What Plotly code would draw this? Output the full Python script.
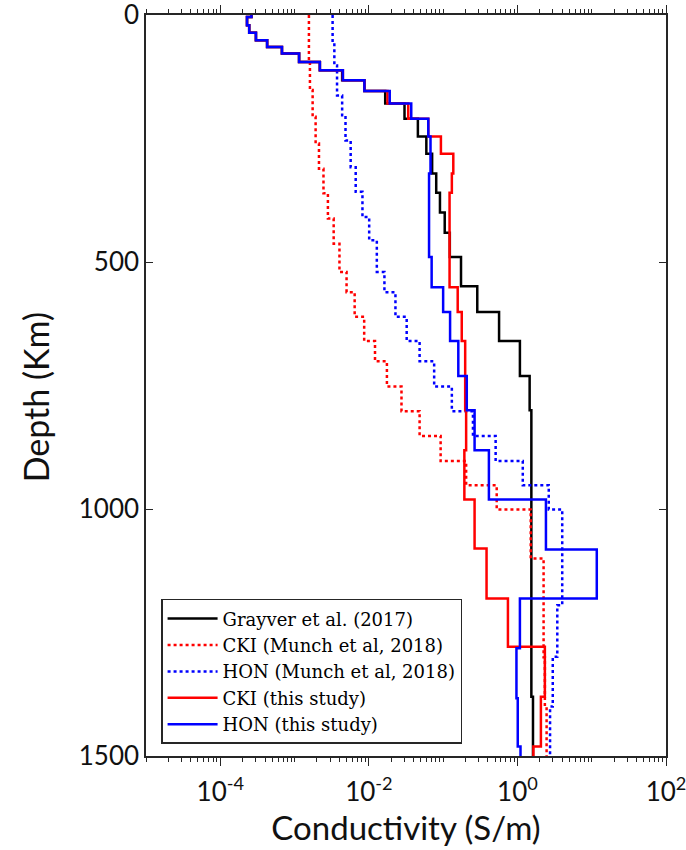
import plotly.graph_objects as go

# ---------------- data (layer top depth in km, conductivity in S/m) ----------------
grayver_top = [0, 4, 21, 36, 51, 65, 78, 95, 112, 132, 154, 179, 210, 246, 281, 321, 360,
               400, 441, 490, 549, 601, 660, 731, 800, 1380]
grayver_sig = [2.63e-4, 2.29e-4, 2.45e-4, 3.02e-4, 4.27e-4, 6.76e-4, 1.15e-3, 2.19e-3, 4.37e-3,
               8.71e-3, 1.66e-2, 3.02e-2, 4.57e-2, 5.94e-2, 7.11e-2, 8.07e-2, 9.06e-2,
               0.105, 0.123, 0.174, 0.288, 0.566, 1.08, 1.46, 1.54, 1.62]

cki_munch_top = [0, 95, 152, 206, 260, 311, 361, 412, 463, 520, 561, 611, 660, 701, 752,
                 802, 852, 903, 952, 1001, 1100, 1300, 1400]
cki_munch_sig = [1.56e-3, 1.61e-3, 1.75e-3, 1.92e-3, 2.13e-3, 2.45e-3, 2.81e-3, 3.36e-3,
                 4.02e-3, 5.01e-3, 6.44e-3, 8.65e-3, 1.21e-2, 1.75e-2, 2.75e-2, 4.82e-2,
                 9.25e-2, 0.204, 0.526, 1.51, 2.25, 2.34, 2.47]

hon_munch_top = [0, 55, 102, 163, 203, 254, 308, 358, 409, 456, 520, 561, 611, 660, 701,
                 752, 802, 852, 903, 952, 1001, 1195, 1299, 1400]
hon_munch_sig = [3.25e-3, 3.43e-3, 3.73e-3, 4.37e-3, 4.85e-3, 5.69e-3, 6.65e-3, 8.20e-3,
                 1.01e-2, 1.28e-2, 1.62e-2, 2.28e-2, 3.23e-2, 4.82e-2, 7.57e-2, 0.131,
                 0.252, 0.509, 1.18, 2.64, 4.01, 3.44, 2.99, 2.75]

cki_this_top = [0, 4, 21, 36, 51, 65, 78, 95, 112, 132, 154, 179, 210, 246, 281, 321, 360,
                551, 601, 660, 800, 881, 981, 1080, 1181, 1279, 1380, 1481]
cki_this_sig = [2.63e-4, 2.29e-4, 2.45e-4, 3.02e-4, 4.27e-4, 6.76e-4, 1.15e-3, 2.19e-3,
                4.47e-3, 8.71e-3, 1.78e-2, 3.39e-2, 6.31e-2, 9.33e-2, 0.137, 0.131, 0.122,
                0.157, 0.178, 0.198, 0.204, 0.193, 0.265, 0.384, 0.745, 2.34, 2.07, 1.64]

hon_this_top = [0, 4, 21, 36, 51, 65, 78, 95, 112, 132, 154, 179, 210, 246, 321, 490, 551,
                601, 660, 731, 800, 881, 981, 1082, 1181, 1282, 1383, 1481]
hon_this_sig = [2.63e-4, 2.29e-4, 2.45e-4, 3.02e-4, 4.27e-4, 6.76e-4, 1.15e-3, 2.19e-3,
                4.47e-3, 8.71e-3, 1.91e-2, 3.72e-2, 6.31e-2, 6.76e-2, 6.46e-2, 7.00e-2,
                0.100, 0.124, 0.160, 0.208, 0.265, 0.413, 2.42, 11.7, 1.08, 0.97, 1.01, 1.10]

max_depth = 1500

series = [
    ("Grayver et al. (2017)", grayver_top, grayver_sig, "#000000", "solid"),
    ("CKI (Munch et al, 2018)", cki_munch_top, cki_munch_sig, "#ff0000", "dot"),
    ("HON (Munch et al, 2018)", hon_munch_top, hon_munch_sig, "#0000ff", "dot"),
    ("CKI (this study)", cki_this_top, cki_this_sig, "#ff0000", "solid"),
    ("HON (this study)", hon_this_top, hon_this_sig, "#0000ff", "solid"),
]

x_major = [1e-4, 1e-2, 1, 100]
x_major_text = ["10<sup>-4</sup>", "10<sup>-2</sup>", "10<sup>0</sup>", "10<sup>2</sup>"]
y_ticks = [0, 500, 1000, 1500]

fig = go.Figure()
for name, tops, sig, color, dash in series:
    fig.add_trace(go.Scatter(
        x=list(sig) + [sig[-1]],
        y=list(tops) + [max_depth],
        mode="lines",
        name=name,
        line=dict(color=color, width=2.5, dash=dash, shape="vh"),
    ))

minor_vals = []
for d in range(-5, 2):
    for k in range(1, 10):
        v = k * 10.0 ** d
        if not any(abs(v - m) / m < 1e-9 for m in x_major):
            minor_vals.append(v)

axis_col = "#262626"
fig.update_layout(
    width=686, height=850,
    margin=dict(l=146, r=20, t=15, b=94),
    paper_bgcolor="white", plot_bgcolor="white",
    font=dict(family="Lato", size=26, color="#111111"),
    showlegend=True,
    legend=dict(
        x=0.029, y=0.212, xanchor="left", yanchor="top",
        font=dict(family="DejaVu Serif", size=18, color="#000000"),
        bgcolor="white", bordercolor=axis_col, borderwidth=1.5,
        itemwidth=50, tracegroupgap=0,
    ),
    xaxis=dict(
        type="log", range=[-5, 2], automargin=False,
        tickmode="array", tickvals=x_major, ticktext=x_major_text,
        ticks="outside", ticklen=8, tickwidth=1, tickcolor=axis_col,
        ticklabeloverflow="allow", ticklabelstandoff=4,
        minor=dict(tickmode="array", tickvals=minor_vals, ticks="outside",
                   ticklen=4, tickwidth=1, tickcolor=axis_col),
        showline=True, linecolor=axis_col, linewidth=1.5, mirror="allticks",
        showgrid=False, zeroline=False,
        tickfont=dict(family="Lato", size=26, color="#111111"),
        title=dict(text="Conductivity (S/m)", font=dict(family="Lato", size=33, color="#111111"),
                   standoff=5),
    ),
    yaxis=dict(
        range=[max_depth, 0], automargin=False,
        tickmode="array", tickvals=y_ticks,
        ticks="inside", ticklen=7, tickwidth=1, tickcolor=axis_col,
        ticklabeloverflow="allow",
        showline=True, linecolor=axis_col, linewidth=1.5, mirror="allticks",
        showgrid=False, zeroline=False,
        tickfont=dict(family="Lato", size=26, color="#111111"),
    ),
    annotations=[dict(
        text="Depth (Km)", textangle=-90, showarrow=False,
        xref="paper", yref="paper", x=-0.2135, y=0.484,
        xanchor="center", yanchor="middle",
        font=dict(family="Lato", size=34, color="#111111"),
    )],
)

fig.write_html("out.html")
